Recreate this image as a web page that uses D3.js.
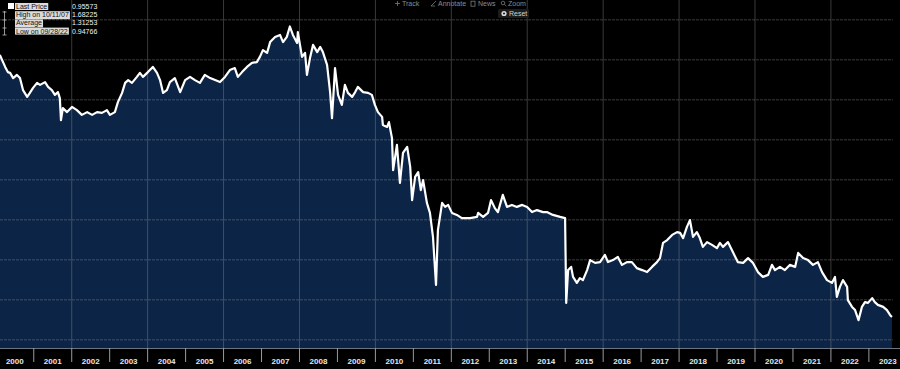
<!DOCTYPE html>
<html>
<head>
<meta charset="utf-8">
<script src="https://cdn.jsdelivr.net/npm/d3@7"></script>
<style>
  body { margin: 0; background: #000; overflow: hidden; }
  text { font-family: "Liberation Sans", Arial, sans-serif; }
</style>
</head>
<body>
<div id="chart"></div>
<script>
// decimal years and closing prices
const dates = [
  2000.12, 2000.26, 2000.33, 2000.39, 2000.47, 2000.57, 2000.65, 2000.73, 2000.84, 2000.91,
  2000.99, 2001.10, 2001.18, 2001.31, 2001.39, 2001.49, 2001.57, 2001.65, 2001.70, 2001.73,
  2001.78, 2001.89, 2002.02, 2002.15, 2002.28, 2002.42, 2002.55, 2002.68, 2002.81, 2002.94,
  2003.02, 2003.15, 2003.23, 2003.34, 2003.42, 2003.50, 2003.60, 2003.73, 2003.81, 2003.89,
  2004.02, 2004.15, 2004.26, 2004.34, 2004.42, 2004.52, 2004.60, 2004.73, 2004.87, 2005.00,
  2005.13, 2005.26, 2005.39, 2005.52, 2005.66, 2005.79, 2005.92, 2006.05, 2006.18, 2006.31,
  2006.39, 2006.50, 2006.63, 2006.76, 2006.89, 2006.97, 2007.05, 2007.16, 2007.24, 2007.37,
  2007.50, 2007.58, 2007.68, 2007.76, 2007.84, 2007.95, 2007.97, 2008.08, 2008.16, 2008.21,
  2008.29, 2008.37, 2008.48, 2008.56, 2008.63, 2008.74, 2008.82, 2008.87, 2008.95, 2009.03,
  2009.13, 2009.21, 2009.29, 2009.40, 2009.48, 2009.55, 2009.69, 2009.82, 2009.92, 2010.00,
  2010.08, 2010.19, 2010.21, 2010.32, 2010.37, 2010.45, 2010.48, 2010.58, 2010.66, 2010.74,
  2010.85, 2010.93, 2010.98, 2011.06, 2011.14, 2011.21, 2011.27, 2011.37, 2011.45, 2011.53,
  2011.61, 2011.66, 2011.77, 2011.85, 2011.93, 2012.03, 2012.16, 2012.29, 2012.51, 2012.69,
  2012.72, 2012.85, 2012.98, 2013.06, 2013.16, 2013.24, 2013.37, 2013.48, 2013.61, 2013.74,
  2013.88, 2014.01, 2014.14, 2014.27, 2014.43, 2014.53, 2014.69, 2014.88, 2015.01, 2015.04,
  2015.09, 2015.17, 2015.22, 2015.32, 2015.40, 2015.48, 2015.59, 2015.67, 2015.80, 2015.93,
  2016.06, 2016.14, 2016.27, 2016.40, 2016.51, 2016.64, 2016.77, 2016.90, 2017.04, 2017.17,
  2017.30, 2017.43, 2017.51, 2017.59, 2017.70, 2017.83, 2017.96, 2018.04, 2018.12, 2018.22,
  2018.30, 2018.38, 2018.48, 2018.56, 2018.64, 2018.75, 2018.88, 2019.01, 2019.09, 2019.17,
  2019.30, 2019.43, 2019.56, 2019.70, 2019.83, 2019.96, 2020.09, 2020.22, 2020.36, 2020.46,
  2020.54, 2020.67, 2020.80, 2020.93, 2021.07, 2021.15, 2021.28, 2021.41, 2021.54, 2021.67,
  2021.78, 2021.91, 2022.04, 2022.12, 2022.17, 2022.25, 2022.33, 2022.44, 2022.46, 2022.57,
  2022.65, 2022.74, 2022.83, 2022.91, 2022.99, 2023.10, 2023.17, 2023.25, 2023.39, 2023.49,
  2023.57, 2023.62
]
const prices = [
  1.611, 1.581, 1.568, 1.566, 1.553, 1.561, 1.553, 1.523, 1.506, 1.516,
  1.528, 1.541, 1.536, 1.543, 1.531, 1.523, 1.511, 1.518, 1.503, 1.448,
  1.478, 1.468, 1.481, 1.473, 1.461, 1.468, 1.461, 1.468, 1.466, 1.473,
  1.461, 1.468, 1.493, 1.516, 1.541, 1.548, 1.541, 1.556, 1.566, 1.556,
  1.568, 1.581, 1.566, 1.548, 1.516, 1.523, 1.543, 1.553, 1.518, 1.548,
  1.556, 1.548, 1.541, 1.561, 1.553, 1.548, 1.543, 1.556, 1.573, 1.578,
  1.556, 1.568, 1.581, 1.591, 1.593, 1.606, 1.623, 1.616, 1.643, 1.656,
  1.661, 1.643, 1.656, 1.682, 1.661, 1.641, 1.668, 1.606, 1.616, 1.561,
  1.603, 1.636, 1.618, 1.631, 1.618, 1.586, 1.518, 1.453, 1.578, 1.511,
  1.486, 1.536, 1.516, 1.506, 1.518, 1.531, 1.518, 1.516, 1.511, 1.486,
  1.468, 1.456, 1.436, 1.431, 1.443, 1.403, 1.323, 1.386, 1.291, 1.366,
  1.381, 1.331, 1.248, 1.306, 1.318, 1.273, 1.298, 1.241, 1.216, 1.156,
  1.036, 1.173, 1.241, 1.231, 1.236, 1.216, 1.211, 1.203, 1.203, 1.206,
  1.216, 1.206, 1.216, 1.248, 1.228, 1.218, 1.261, 1.231, 1.236, 1.231,
  1.236, 1.231, 1.218, 1.223, 1.218, 1.218, 1.211, 1.206, 1.203, 0.991,
  1.073, 1.081, 1.056, 1.041, 1.053, 1.048, 1.073, 1.098, 1.091, 1.093,
  1.111, 1.093, 1.098, 1.106, 1.086, 1.093, 1.093, 1.078, 1.073, 1.068,
  1.081, 1.093, 1.103, 1.141, 1.148, 1.161, 1.168, 1.166, 1.153, 1.181,
  1.198, 1.156, 1.168, 1.153, 1.131, 1.143, 1.136, 1.128, 1.141, 1.131,
  1.143, 1.118, 1.093, 1.091, 1.103, 1.091, 1.068, 1.056, 1.061, 1.086,
  1.073, 1.081, 1.073, 1.086, 1.081, 1.116, 1.103, 1.098, 1.086, 1.093,
  1.068, 1.048, 1.041, 1.056, 1.006, 1.031, 1.048, 1.031, 0.998, 0.981,
  0.973, 0.948, 0.981, 0.993, 0.991, 1.003, 0.993, 0.986, 0.981, 0.973,
  0.961, 0.956
]

const yearLabels = ["2000","2001","2002","2003","2004","2005","2006","2007","2008","2009","2010","2011",
                    "2012","2013","2014","2015","2016","2017","2018","2019","2020","2021","2022","2023"]
const gridValues = [0.9, 1.0, 1.1, 1.2, 1.3, 1.4, 1.5, 1.6, 1.7]
const legendLabels = ["Last Price", "High on 10/11/07", "Average", "Low on 09/28/22"]
const legendValues = ["0.95573", "1.68225", "1.31253", "0.94766"]
const toolLabels = ["Track", "Annotate", "News", "Zoom"]

const makeChart = () => {
    let w = 900
    let h = 369
    let plotRight = 893
    let plotBottom = 348

    let data = dates.map((d, i) => ({ t: d, v: prices[i] }))

    const svg = d3.select('#chart')
        .append('svg')
        .attr('width', w)
        .attr('height', h)
        .style('background-color', '#000')
        .style('display', 'block')

    const xScale = d3.scaleLinear()
        .domain([2000, 2024])
        .range([-4.7, -4.7 + 24 * 37.96])

    const yScale = d3.scaleLinear()
        .domain([0.9, 1.7])
        .range([339.3, 19.3])

    svg.append('clipPath').attr('id', 'plot-clip')
        .append('rect')
        .attr('x', 0).attr('y', 0)
        .attr('width', plotRight).attr('height', plotBottom)

    // area under the price
    const area = d3.area()
        .x(d => xScale(d.t))
        .y0(plotBottom)
        .y1(d => yScale(d.v))

    svg.append('path')
        .datum(data)
        .attr('clip-path', 'url(#plot-clip)')
        .attr('d', area)
        .attr('fill', '#0c2547')

    // grid
    const hGrid = svg.append('g')
        .call(d3.axisLeft(yScale).tickValues(gridValues).tickSize(-plotRight).tickFormat(''))
    hGrid.select('.domain').remove()
    hGrid.selectAll('line')
        .attr('stroke', '#8a8a8a')
        .attr('stroke-opacity', 0.42)
        .attr('stroke-dasharray', '3,1')

    const evenYears = d3.range(2002, 2024, 2)
    const vGrid = svg.append('g')
        .attr('transform', `translate(0, ${plotBottom})`)
        .call(d3.axisBottom(xScale).tickValues(evenYears).tickSize(-plotBottom).tickFormat(''))
    vGrid.select('.domain').remove()
    vGrid.selectAll('line')
        .attr('stroke', '#8a8a8a')
        .attr('stroke-opacity', 0.42)

    // price line
    const line = d3.line()
        .x(d => xScale(d.t))
        .y(d => yScale(d.v))

    svg.append('path')
        .datum(data)
        .attr('clip-path', 'url(#plot-clip)')
        .attr('d', line)
        .attr('fill', 'none')
        .attr('stroke', '#fff')
        .attr('stroke-width', 2.2)
        .attr('stroke-linejoin', 'round')

    // bottom year axis
    svg.append('line')
        .attr('x1', 0).attr('x2', w)
        .attr('y1', plotBottom + 0.5).attr('y2', plotBottom + 0.5)
        .attr('stroke', '#6b7280')

    const sepAxis = svg.append('g')
        .attr('transform', `translate(0, ${plotBottom})`)
        .call(d3.axisBottom(xScale).tickValues(d3.range(2001, 2024)).tickSize(14).tickFormat(''))
    sepAxis.select('.domain').remove()
    sepAxis.selectAll('line').attr('stroke', '#9a9a9a')

    const labelAxis = svg.append('g')
        .attr('transform', `translate(0, ${plotBottom})`)
        .call(d3.axisBottom(xScale)
            .tickValues(yearLabels.map(y => +y + 0.5))
            .tickSize(0)
            .tickFormat((d, i) => yearLabels[i]))
    labelAxis.select('.domain').remove()
    labelAxis.selectAll('text')
        .attr('y', 10)
        .attr('fill', '#e6e6e6')
        .style('font-size', '8px')
        .style('font-weight', 'bold')

    // legend
    const legend = svg.append('g')
    legend.append('rect')
        .attr('x', 8).attr('y', 3).attr('width', 6).attr('height', 6)
        .attr('fill', '#fff')
    legend.append('line')
        .attr('x1', 4.5).attr('x2', 4.5).attr('y1', 11).attr('y2', 35)
        .attr('stroke', '#bbb').attr('stroke-width', 0.8)
    ;[12, 20, 28, 35].forEach(yy => {
        legend.append('line')
            .attr('x1', 2.5).attr('x2', 6.5).attr('y1', yy).attr('y2', yy)
            .attr('stroke', '#bbb').attr('stroke-width', 0.8)
    })

    legendLabels.forEach((lab, i) => {
        let ty = 9 + i * 8.2
        let t = legend.append('text')
            .attr('x', 16).attr('y', ty)
            .attr('fill', '#111')
            .style('font-size', '7px')
            .text(lab)
        let bb = t.node().getBBox()
        legend.insert('rect', 'text')
            .attr('x', bb.x - 1).attr('y', bb.y)
            .attr('width', bb.width + 2).attr('height', bb.height)
            .attr('fill', '#dcdcdc')
        legend.append('text')
            .attr('x', 72).attr('y', ty)
            .attr('fill', '#f2f2f2')
            .style('font-size', '7px')
            .text(legendValues[i])
    })

    // toolbar
    const toolX = [395, 431, 471, 501]
    const tools = svg.append('g')
    const iconStroke = '#7a7a7a'
    // track: crosshair
    tools.append('path').attr('d', `M${toolX[0]},3.5h5M${toolX[0] + 2.5},1v5`)
        .attr('stroke', iconStroke).attr('stroke-width', 0.8)
    // annotate: slanted pen
    tools.append('path').attr('d', `M${toolX[1]},6L${toolX[1] + 5},1M${toolX[1]},6h4`)
        .attr('stroke', iconStroke).attr('stroke-width', 0.8).attr('fill', 'none')
    // news: page
    tools.append('rect').attr('x', toolX[2]).attr('y', 1.2).attr('width', 4).attr('height', 5)
        .attr('fill', 'none').attr('stroke', iconStroke).attr('stroke-width', 0.8)
    // zoom: magnifier
    tools.append('circle').attr('cx', toolX[3] + 2).attr('cy', 3).attr('r', 1.8)
        .attr('fill', 'none').attr('stroke', iconStroke).attr('stroke-width', 0.8)
    tools.append('path').attr('d', `M${toolX[3] + 3.3},4.3l2,2`)
        .attr('stroke', iconStroke).attr('stroke-width', 0.8)
    toolLabels.forEach((lab, i) => {
        tools.append('text')
            .attr('x', toolX[i] + 7).attr('y', 6)
            .attr('fill', '#8c8c8c')
            .style('font-size', '7px')
            .text(lab)
    })
    tools.append('rect')
        .attr('x', 498).attr('y', 9).attr('width', 31).attr('height', 9)
        .attr('rx', 1.5)
        .attr('fill', '#1c1c1c')
    tools.append('circle')
        .attr('cx', 504).attr('cy', 13.5).attr('r', 2.6)
        .attr('fill', '#ddd')
    tools.append('circle')
        .attr('cx', 504).attr('cy', 13.5).attr('r', 1.1)
        .attr('fill', '#222')
    tools.append('text')
        .attr('x', 509).attr('y', 16)
        .attr('fill', '#cfcfcf')
        .style('font-size', '7px')
        .text('Reset')
}

makeChart()
</script>
</body>
</html>
